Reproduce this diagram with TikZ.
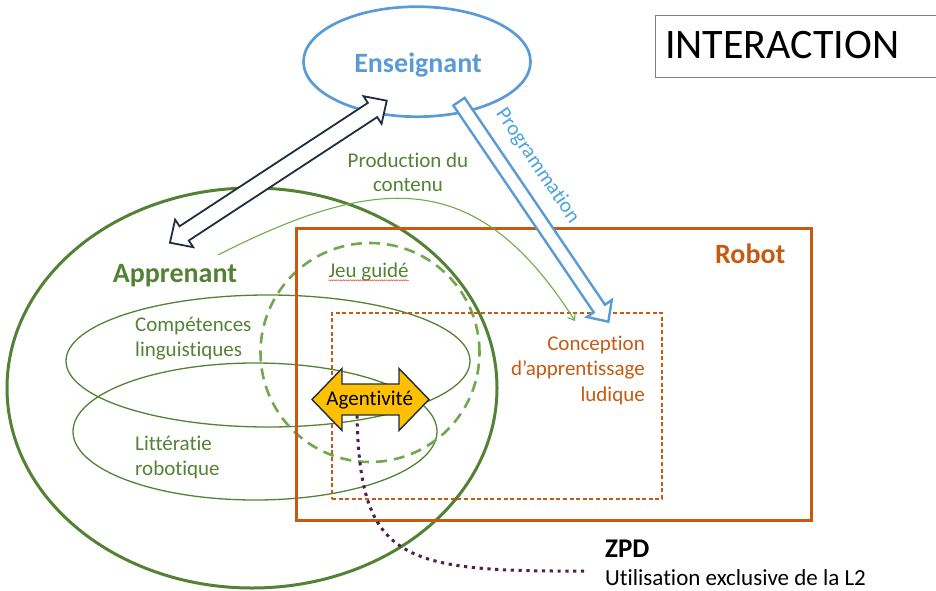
\documentclass[tikz,border=0pt]{standalone}
\usepackage{fontspec}
\setmainfont{Carlito}[Ligatures={NoCommon,NoContextual}]
\usetikzlibrary{shapes.geometric,arrows.meta,decorations.pathmorphing}

\definecolor{appgreen}{HTML}{548235}
\definecolor{zonegreen}{HTML}{70A84E}
\definecolor{curvegreen}{HTML}{70AD47}
\definecolor{robotorange}{HTML}{C55A11}
\definecolor{ensblue}{HTML}{5B9BD5}
\definecolor{progblue}{HTML}{4AA3DF}
\definecolor{navyline}{HTML}{1F2E3F}
\definecolor{agentyellow}{HTML}{FFC000}
\definecolor{zpdpurple}{HTML}{4E1F4E}
\definecolor{framegray}{HTML}{7F7F7F}
\definecolor{spellred}{HTML}{E8503A}

% block arrow outlines, drawn along the local x axis and centred on the origin
% #1 half length, #2 shaft half width, #3 head half width, #4 head length
\newcommand\twoheadpoly[4]{(-#1,0) -- ({-#1+#4},#3) -- ({-#1+#4},#2) -- ({#1-#4},#2) -- ({#1-#4},#3) -- (#1,0) -- ({#1-#4},-#3) -- ({#1-#4},-#2) -- ({-#1+#4},-#2) -- ({-#1+#4},-#3) -- cycle}
\newcommand\oneheadpoly[4]{(-#1,-#2) -- ({#1-#4},-#2) -- ({#1-#4},-#3) -- (#1,0) -- ({#1-#4},#3) -- ({#1-#4},#2) -- (-#1,#2) -- cycle}

\begin{document}
\begin{tikzpicture}[x=1pt,y=-1pt,
  heading/.style={font=\fontsize{28}{34}\selectfont\bfseries, inner sep=0},
  txt/.style={font=\fontsize{21}{25}\selectfont, inner sep=0},
  zone/.style={draw, inner sep=0, fill=none},
  hollowarrow/.style={fill=white, line join=miter},
]
\useasboundingbox (0,0) rectangle (936,591);
\clip (0,0) rectangle (936,591);

% ---- learner zone and its two competences
\node[zone, ellipse, appgreen, line width=3pt, minimum width=490pt, minimum height=400pt] (learner) at (252,388) {};
\node[zone, ellipse, appgreen, line width=1.3pt, minimum width=404pt, minimum height=132pt] (ling) at (268,361) {};
\node[zone, ellipse, appgreen, line width=1.3pt, minimum width=364pt, minimum height=137pt] (robolit) at (255,431.5) {};

% ---- guided play (dashed circle)
\node[zone, circle, zonegreen, line width=2.6pt, dash pattern=on 11pt off 7pt, minimum size=219pt] (guided) at (370,352.5) {};

% ---- robot frame and playful design frame
\node[zone, rectangle, robotorange, line width=3pt, minimum width=515pt, minimum height=292pt] (robot) at (553.5,374) {};
\node[zone, rectangle, robotorange, line width=1.2pt, dash pattern=on 4pt off 2.6pt, minimum width=330pt, minimum height=186pt] (design) at (497,406) {};

% ---- title box
\node[zone, rectangle, framegray, line width=1.3pt, minimum width=300pt, minimum height=62pt, anchor=north west] (titlebox) at (655,15) {};
\node[anchor=base west, inner sep=0, font=\fontsize{42}{50}\selectfont] (title) at (665,58.3) {INTERACTION};

% ---- teacher
\node[zone, ellipse, ensblue, line width=2.7pt, minimum width=227pt, minimum height=110pt] (teacher) at (417,61.7) {};
\node[heading, ensblue, anchor=base] (teachertxt) at (418,72.7) {Enseignant};

% ---- content production curve
\coordinate (prodstart) at (218,255);
\coordinate (prodend) at (575,321);
\draw[curvegreen, line width=1.1pt, -{Straight Barb[length=6pt,width=9pt]}]
  (prodstart) .. controls (385,170) and (480,172) .. (prodend);
\node[txt, appgreen, anchor=base] (prod1) at (408,167.3) {Production du};
\node[txt, appgreen, anchor=base] (prod2) at (408,191.7) {contenu};

% ---- teacher <-> learner exchange
\draw[hollowarrow, draw=navyline, line width=1.8pt, shift={(278.35,171.7)}, rotate=33.23] \twoheadpoly{129.6}{8.5}{16.5}{17};

% ---- programming arrow
\draw[hollowarrow, draw=ensblue, line width=2.4pt, shift={(533.65,211.7)}, rotate=-55.84] \oneheadpoly{133}{6.8}{15}{16};
\node[progblue, inner sep=0, font=\fontsize{21}{25}\selectfont, rotate=-55.84] (prog) at (537.5,166) {Programmation};

% ---- labels
\node[heading, appgreen, anchor=base west] (learnertxt) at (112.7,282) {Apprenant};
\node[heading, robotorange, anchor=base west] (robottxt) at (715,263.3) {Robot};
\node[txt, appgreen, anchor=base west] (ling1) at (135,331.7) {Compétences};
\node[txt, appgreen, anchor=base west] (ling2) at (135,356.7) {linguistiques};
\node[txt, appgreen, anchor=base west] (lit1) at (135,450.7) {Littératie};
\node[txt, appgreen, anchor=base west] (lit2) at (135,475.5) {robotique};
\node[txt, appgreen, anchor=base west] (jeu) at (328.3,277.3) {Jeu guidé};
\draw[spellred, line width=0.5pt, decorate, decoration={snake, amplitude=0.6pt, segment length=2.4pt}]
  ([yshift=-3pt]jeu.base west) -- ([yshift=-3pt]jeu.base east);
\node[txt, robotorange, anchor=base east] (des1) at (645,350) {Conception};
\node[txt, robotorange, anchor=base east] (des2) at (645,375.5) {d’apprentissage};
\node[txt, robotorange, anchor=base east] (des3) at (645,401) {ludique};

% ---- agency
\filldraw[fill=agentyellow, draw=navyline, line width=1.4pt, line join=miter, shift={(370.5,399.5)}] \twoheadpoly{58.5}{15.5}{31}{30};
\node[txt, anchor=base] (agent) at (369.7,405) {Agentivité};

% ---- ZPD link
\coordinate (agentfoot) at (357,415.5);
\coordinate (zpdend) at (587,571);
\draw[zpdpurple, line width=3pt, dash pattern=on 3.2pt off 4.6pt]
  (agentfoot) .. controls (360,560) and (400,572) .. (zpdend);
\node[anchor=base west, inner sep=0, font=\fontsize{27}{32}\selectfont\bfseries] (zpd) at (605,557) {ZPD};
\node[anchor=base west, inner sep=0, font=\fontsize{23}{28}\selectfont] (zpdsub) at (605,585) {Utilisation exclusive de la L2};
\end{tikzpicture}
\end{document}
